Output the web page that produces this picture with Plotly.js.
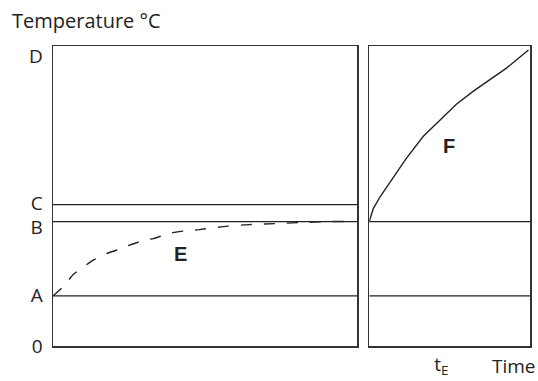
<!DOCTYPE html>
<html>
<head>
<meta charset="utf-8">
<script src="https://cdn.plot.ly/plotly-3.0.1.min.js"></script>
<style>
  body { margin: 0; background: #fff; }
  #chart { width: 538px; height: 381px; }
</style>
</head>
<body>
<div id="chart"></div>
<script>
// temperature levels (arbitrary units, 0 at the bottom)
const levelA = 50;
const levelB = 124;
const levelC = 141;

const yTickVals = [0, 50, 118, 142, 289];
const yTickText = ['0', 'A', 'B', 'C', 'D'];

// curve E: warming up towards B (left panel)
const timeE = [0, 11, 20, 28, 41, 53, 65, 75, 90, 100, 115, 126, 146, 170, 196, 222, 246, 274, 300];
const tempE = [50, 60, 71, 77, 86, 92, 96, 100, 105, 107, 112, 114, 116, 119, 121, 122, 123, 124, 124];

// curve F: heating after t_E (right panel)
const timeF = [0, 4, 11, 24, 37, 54, 71, 87, 104, 121, 137, 159];
const tempF = [124, 137, 149, 168, 187, 209, 226, 241, 254, 266, 277, 295];

const xTickVals = [72];
const xTickText = ['t<sub>E</sub>'];

const leftEnd = 304;
const rightEnd = 160.5;

const ink = '#222';
const font = 'Open Sans, Noto Sans, sans-serif';

function hline(level, xEnd, xa, ya) {
  return {
    x: [0, xEnd], y: [level, level],
    xaxis: xa, yaxis: ya,
    mode: 'lines', line: { color: ink, width: 1.3 },
    hoverinfo: 'skip'
  };
}

const traces = [
  hline(levelA, leftEnd, 'x', 'y'),
  hline(levelB, leftEnd, 'x', 'y'),
  hline(levelC, leftEnd, 'x', 'y'),
  hline(levelA, rightEnd, 'x2', 'y2'),
  hline(levelB, rightEnd, 'x2', 'y2'),
  {
    x: timeE, y: tempE, xaxis: 'x', yaxis: 'y',
    mode: 'lines', line: { color: ink, width: 1.4, dash: '11px,12px', shape: 'spline', smoothing: 0.6 }
  },
  {
    x: timeF, y: tempF, xaxis: 'x2', yaxis: 'y2',
    mode: 'lines', line: { color: ink, width: 1.4, shape: 'linear' }
  }
];

const boxAxis = {
  showline: true, mirror: true, linecolor: '#333', linewidth: 1.5,
  showgrid: false, zeroline: false, fixedrange: true
};

const layout = {
  width: 538, height: 381,
  margin: { l: 53, r: 8, t: 46, b: 35 },
  paper_bgcolor: '#fff', plot_bgcolor: '#fff',
  showlegend: false,
  font: { family: font, color: ink, size: 19 },
  title: {
    text: 'Temperature °C',
    font: { family: font, size: 20, color: ink },
    xref: 'container', x: 12 / 538, xanchor: 'left',
    yref: 'container', y: 1 - 14 / 381, yanchor: 'top'
  },
  xaxis: Object.assign({}, boxAxis, {
    domain: [0, 0.638], range: [0, leftEnd], showticklabels: false, anchor: 'y'
  }),
  xaxis2: Object.assign({}, boxAxis, {
    domain: [0.663, 1], range: [0, rightEnd], anchor: 'y2',
    tickvals: xTickVals, ticktext: xTickText, ticks: '',
    ticklabelstandoff: 1, tickfont: { family: font, size: 19, color: ink }
  }),
  yaxis: Object.assign({}, boxAxis, {
    range: [0, 299], anchor: 'x',
    tickvals: yTickVals, ticktext: yTickText, ticks: '',
    ticklabelstandoff: 5, tickfont: { family: font, size: 19, color: ink }
  }),
  yaxis2: Object.assign({}, boxAxis, {
    range: [0, 299], anchor: 'x2', matches: 'y', showticklabels: false
  }),
  annotations: [
    { text: '<b>E</b>', x: 127, y: 92, xref: 'x', yref: 'y', showarrow: false,
      font: { family: 'Liberation Sans, Arial, sans-serif', size: 20, color: ink } },
    { text: '<b>F</b>', x: 80, y: 199, xref: 'x2', yref: 'y2', showarrow: false,
      font: { family: 'Liberation Sans, Arial, sans-serif', size: 20, color: ink } },
    { text: 'Time', x: rightEnd, y: 0, xref: 'x2', yref: 'paper',
      xanchor: 'right', yanchor: 'top', xshift: 8, yshift: -5, showarrow: false,
      font: { family: font, size: 19, color: ink } }
  ]
};

Plotly.newPlot('chart', traces, layout, { staticPlot: true });
</script>
</body>
</html>
